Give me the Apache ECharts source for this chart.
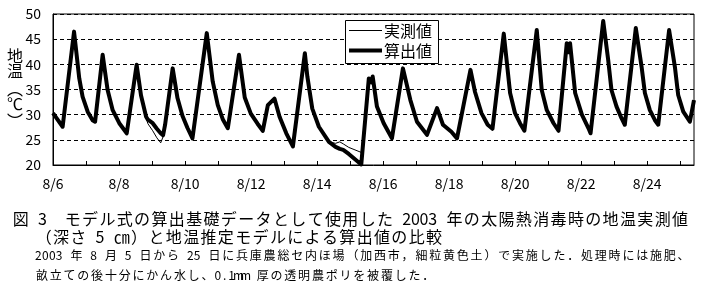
<!DOCTYPE html>
<html><head><meta charset="utf-8">
<script src="https://cdn.jsdelivr.net/npm/echarts@6/dist/echarts.min.js"></script>
<style>html,body{margin:0;padding:0;background:#fff}#c{width:702px;height:290px}</style>
</head><body><div id="c"></div>
<script>
// hours elapsed since 8/6 0:00
const hours = [0,7.0,15.3,19.1,21.5,25.2,28.8,30.6,36.1,39.7,43.4,48.2,53.6,60.8,64.0,67.7,69.0,72.5,75.5,78.3,80.0,81.5,87.0,90.5,94.1,97.7,101.4,111.8,116.1,119.8,123.4,127.1,135.2,139.4,143.8,148.7,152.5,156.2,161.0,164.7,169.6,174.4,183.1,184.9,188.5,193.3,200.6,205.4,208.5,211.0,215.0,224.1,229.6,231.5,232.4,235.5,240.4,246.4,254.4,259.8,264.6,271.9,279.2,283.5,289.6,293.7,303.5,306.8,311.5,316.0,319.5,327.7,332.3,335.9,339.5,342.7,351.7,355.3,359.0,363.9,367.5,373.5,374.8,375.9,379.6,384.5,389.3,390.8,400.0,403.6,406.0,409.7,413.3,415.7,423.7,427.9,430.3,433.9,437.6,440.0,447.9,452.1,454.5,458.2,463.0,466.0];
const calcValues = [30.3,27.6,46.5,37.2,33.6,30.6,28.9,28.6,41.9,34.9,30.9,28.3,26.3,39.9,33.8,29.6,29.0,28.3,27.2,26.3,25.9,28.0,39.2,33.3,29.8,27.4,25.3,46.2,36.6,31.9,29.1,27.3,41.9,33.4,30.2,28.2,26.8,31.9,33.2,29.6,26.3,23.7,42.2,37.6,31.2,27.6,24.6,23.6,23.2,23.0,22.2,20.1,37.2,36.4,37.6,31.6,28.3,25.3,39.2,32.9,28.6,26.0,31.3,28.0,26.6,25.3,38.9,34.5,30.3,28.0,27.2,46.1,34.3,30.3,28.3,26.8,46.8,34.9,30.9,28.3,26.8,44.2,42.4,44.2,34.3,30.0,27.3,26.3,48.6,40.9,34.9,31.6,29.3,28.0,47.2,39.5,34.3,30.9,28.9,28.0,46.8,39.5,33.9,30.6,28.6,32.9];
const measValues = [30.3,27.6,46.8,37.2,33.6,30.6,28.9,28.6,42.0,34.9,30.9,28.3,26.3,40.0,33.8,29.3,28.2,26.8,25.4,24.4,25.6,28.0,39.2,33.2,29.6,27.2,25.0,46.3,36.6,31.9,29.1,27.3,41.9,33.4,30.2,28.2,26.8,31.9,33.2,29.6,26.3,23.7,42.3,37.6,31.2,27.6,24.6,24.3,24.6,24.2,23.5,22.5,37.2,36.4,37.4,31.6,28.3,25.3,39.2,32.9,28.6,26.0,31.3,28.0,26.6,25.3,38.9,34.5,30.0,27.8,27.0,46.1,34.3,30.3,28.3,26.8,46.9,34.9,30.9,28.3,26.6,44.2,42.4,44.3,34.3,30.0,27.3,26.3,48.9,40.9,34.9,31.6,29.3,28.0,47.3,39.5,34.3,30.9,28.9,28.0,46.9,39.5,33.9,30.6,28.4,32.9];
const xTickLabels = ['8/6','8/8','8/10','8/12','8/14','8/16','8/18','8/20','8/22','8/24'];
const seriesNames = ['実測値','算出値'];
const yTitle = ['地','温','︵','℃','︶'];
const caption1 = '図 3　モデル式の算出基礎データとして使用した 2003 年の太陽熱消毒時の地温実測値';
const caption2 = '（深さ 5 ㎝）と地温推定モデルによる算出値の比較';
const note1 = '2003 年 8 月 5 日から 25 日に兵庫農総セ内ほ場（加西市，細粒黄色土）で実施した．処理時には施肥、';
const note2 = '畝立ての後十分にかん水し、0.1mm 厚の透明農ポリを被覆した．';

const FONT = '"Noto Sans CJK JP", "Noto Sans", sans-serif';
const chart = echarts.init(document.getElementById('c'), null, {renderer: 'canvas'});
const meas = hours.map((h, i) => [h, measValues[i]]);
const calc = hours.map((h, i) => [h, calcValues[i]]);

const graphics = [];
// fixed-pitch text layout (full-width cell = pitch, half-width = pitch/2)
function layoutLine(str, x0, yc, pitch, fontSize) {
  let x = x0;
  for (const ch of str) {
    const code = ch.codePointAt(0);
    const w = code < 0x2000 ? pitch / 2 : pitch;
    if (ch !== ' ' && ch !== '　') {
      graphics.push({type: 'text', x: x + w / 2, y: yc, silent: true,
        style: {text: ch, font: fontSize + 'px ' + FONT, fill: '#000', align: 'center', verticalAlign: 'middle'}});
    }
    x += w;
  }
}
const yTitleY = [56, 71, 89, 104, 121];
yTitle.forEach((ch, i) => {
  graphics.push({type: 'text', x: 15, y: yTitleY[i], silent: true,
    style: {text: ch, font: '16px ' + FONT, fill: '#000', align: 'center', verticalAlign: 'middle'}});
});
layoutLine(caption1, 12, 219, 17.35, 16);
layoutLine(caption2, 35, 237, 17.35, 16);
layoutLine(note1, 35, 255, 13.8, 12);
layoutLine(note2, 35, 275, 13.8, 12);

// legend box
graphics.push({type: 'rect', shape: {x: 345.5, y: 20.5, width: 93, height: 43}, z: 10,
  style: {fill: '#fff', stroke: '#000', lineWidth: 1}});
graphics.push({type: 'line', shape: {x1: 349, y1: 30.5, x2: 382, y2: 30.5}, z: 11,
  style: {stroke: '#000', lineWidth: 1}});
graphics.push({type: 'line', shape: {x1: 349, y1: 50.5, x2: 382, y2: 50.5}, z: 11,
  style: {stroke: '#000', lineWidth: 4}});
graphics.push({type: 'text', x: 384, y: 31, z: 11,
  style: {text: seriesNames[0], font: '16px ' + FONT, fill: '#000', verticalAlign: 'middle'}});
graphics.push({type: 'text', x: 384, y: 51, z: 11,
  style: {text: seriesNames[1], font: '16px ' + FONT, fill: '#000', verticalAlign: 'middle'}});

chart.setOption({
  animation: false,
  backgroundColor: '#fff',
  grid: {left: 53, top: 14, width: 641, height: 151, show: true, borderColor: '#000', borderWidth: 1, backgroundColor: 'transparent'},
  xAxis: {
    type: 'value', min: 0, max: 466, interval: 24,
    axisLine: {show: true, lineStyle: {color: '#000', width: 1}},
    axisTick: {show: true, inside: true, length: 4, lineStyle: {color: '#000'}},
    axisLabel: {color: '#000', fontSize: 14, fontFamily: FONT, margin: 12,
      showMaxLabel: false,
      formatter: v => (v % 48 === 0 ? (xTickLabels[v / 48] || '') : '')},
    splitLine: {show: false}
  },
  yAxis: {
    type: 'value', min: 20, max: 50, interval: 5,
    axisLine: {show: true, lineStyle: {color: '#000', width: 1}},
    axisTick: {show: false},
    axisLabel: {color: '#000', fontSize: 14, fontFamily: FONT, margin: 12},
    splitLine: {show: true, lineStyle: {color: '#000', type: [4, 3], width: 1}}
  },
  graphic: graphics,
  series: [
    {name: seriesNames[1], type: 'line', data: calc, symbol: 'none', z: 2,
      lineStyle: {color: '#000', width: 4, join: 'round'}, itemStyle: {color: '#000'}},
    {name: seriesNames[0], type: 'line', data: meas, symbol: 'none', z: 3,
      lineStyle: {color: '#000', width: 1}, itemStyle: {color: '#000'}}
  ]
});
</script></body></html>
